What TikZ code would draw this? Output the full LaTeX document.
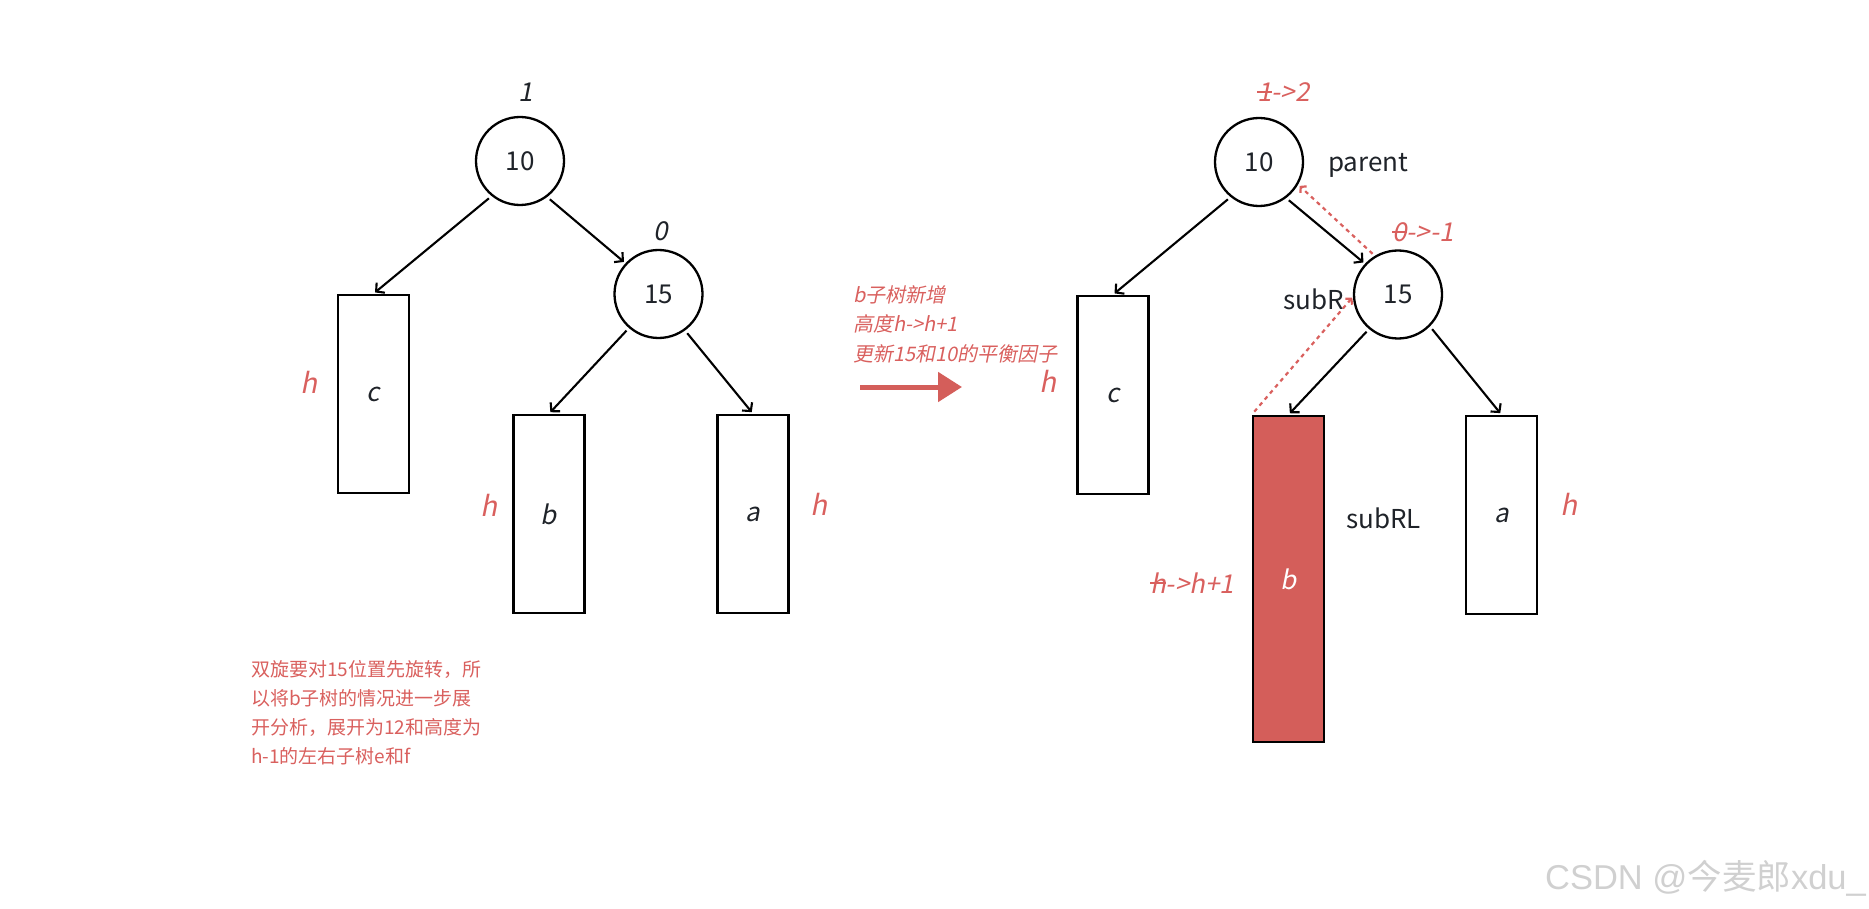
\documentclass[tikz,border=0pt]{standalone}
\usepackage{fontspec}
\setmainfont{Noto Sans CJK SC}
\newfontfamily\itf[FakeSlant=0.2]{Noto Sans CJK SC}
\newfontfamily\wmlat{Liberation Sans}
\usetikzlibrary{arrows.meta}
\definecolor{ink}{HTML}{1F2329}
\definecolor{redt}{RGB}{217,96,94}
\definecolor{redf}{RGB}{212,94,90}
\definecolor{wm}{RGB}{208,208,208}
\newlength\stkw
\newcommand\strk[1]{\settowidth\stkw{#1}\rlap{\rule[0.34em]{\stkw}{0.07em}}#1}
\begin{document}
\begin{tikzpicture}[x=1pt,y=-1pt,
  circ/.style={circle, draw=black, line width=2.3pt, minimum size=88pt, inner sep=0pt, text=ink, font=\fontsize{26}{30}\selectfont},
  box/.style={draw=black, line width=2.6pt, minimum width=71pt, inner sep=0pt, text=ink, font=\itf\fontsize{26}{30}\selectfont},
  edge/.style={draw=black, line width=2.1pt, -{Straight Barb[length=6pt,width=13pt]}, shorten <=3.5pt, shorten >=2pt},
  reddash/.style={draw=redt, line width=2.2pt, dash pattern=on 4pt off 4pt, -{Straight Barb[length=4pt,width=9pt]}},
  bf/.style={text=ink, font=\itf\fontsize{26}{30}\selectfont, inner sep=0pt, anchor=base},
  hl/.style={text=redt, font=\itf\fontsize{28}{32}\selectfont, inner sep=0pt, anchor=base},
  lab/.style={text=ink, font=\fontsize{26}{30}\selectfont, inner sep=0pt, anchor=base west},
  note/.style={text=redt, font=\fontsize{19}{24}\selectfont, inner sep=0pt, anchor=base west},
  inote/.style={text=redt, font=\itf\fontsize{20}{24}\selectfont, inner sep=0pt, anchor=base west},
]
\useasboundingbox (0,0) rectangle (1869,909);
% ---------- left tree ----------
\node[circ] (L10) at (520,161) {10};
\node[circ] (L15) at (658.5,294) {15};
\node[box, minimum height=198pt] (Lc) at (373.5,394) {c};
\node[box, minimum height=198pt] (Lb) at (549,514) {b};
\node[box, minimum height=198pt] (La) at (753,514) {a};
\draw[edge] (L10.-129) -- (Lc.north);
\draw[edge] (L10.-53) -- (L15.137);
\draw[edge] (L15.-131) -- (Lb.north);
\draw[edge] (L15.-54) -- (La.north);
\node[bf] (bf1) at (526,102) {1};
\node[bf] (bf2) at (661,241) {0};
\node[hl] (h1) at (309,393) {h};
\node[hl] (h2) at (489,516) {h};
\node[hl] (h3) at (819,515) {h};
% ---------- middle ----------
\node[inote] (m1) at (853,303) {b子树新增};
\node[inote] (m2) at (853,332) {高度h->h+1};
\node[inote] (m3) at (853,361) {更新15和10的平衡因子};
\coordinate (A1) at (860,387);
\coordinate (A2) at (962,387);
\draw[redf, line width=5pt, -{Triangle[length=24pt,width=29pt]}] (A1) -- (A2);
% ---------- right tree ----------
\node[circ] (R10) at (1259,162) {10};
\node[circ] (R15) at (1398,294.5) {15};
\node[box, minimum height=198pt] (Rc) at (1113,395) {c};
\node[box, minimum height=326pt, fill=redf, text=white] (Rb) at (1288.5,579) {b};
\node[box, minimum height=198pt] (Ra) at (1501.5,515) {a};
\draw[edge] (R10.-129) -- (Rc.north);
\draw[edge] (R10.-53) -- (R15.137);
\draw[edge] (R15.-130) -- (Rb.north);
\draw[edge] (R15.-45) -- (Ra.north);
\draw[reddash, shorten <=3pt, shorten >=2pt] (R15.121) -- (R10.-30);
\draw[reddash, shorten <=4pt, shorten >=1pt] (Rb.north west) -- (R15.183);
\node[hl, font=\itf\fontsize{26}{30}\selectfont, anchor=base west] (bf3) at (1257,102) {\strk{1}->2};
\node[hl, font=\itf\fontsize{26}{30}\selectfont, anchor=base west] (bf4) at (1392,242) {\strk{0}->-1};
\node[hl, font=\itf\fontsize{26}{30}\selectfont, anchor=base west] (bf5) at (1150,593) {\strk{h}->h+1};
\node[lab] (par) at (1328,172) {parent};
\node[lab] (subR) at (1283,310) {subR};
\node[lab] (subRL) at (1346,528) {subRL};
\node[hl] (h4) at (1048,392) {h};
\node[hl] (h5) at (1569,515) {h};
% ---------- note ----------
\node[note] (n1) at (251,676) {双旋要对15位置先旋转，所};
\node[note] (n2) at (251,705) {以将b子树的情况进一步展};
\node[note] (n3) at (251,734) {开分析，展开为12和高度为};
\node[note] (n4) at (251,763) {h-1的左右子树e和f};
% ---------- watermark ----------
\node[anchor=east, text=wm, inner sep=0pt, font=\fontsize{34.5}{38}\selectfont] (wmk) at (1866,878) {{\wmlat CSDN @}今麦郎{\wmlat xdu\_}};
\end{tikzpicture}
\end{document}
